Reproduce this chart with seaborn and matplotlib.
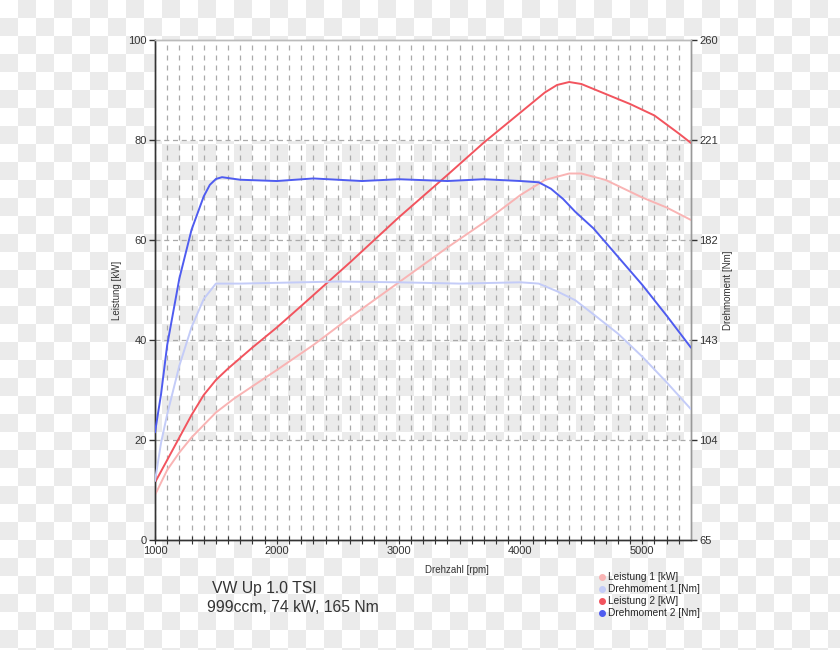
import numpy as np
import pandas as pd
import matplotlib
matplotlib.use('Agg')
import matplotlib.pyplot as plt
from matplotlib.lines import Line2D
import seaborn as sns

# values
rpm_l1 = [1000, 1100, 1200, 1300, 1400, 1500, 1650, 2000, 2300, 2600, 3000, 3400, 3700,
          4000, 4200, 4400, 4500, 4700, 5000, 5200, 5400]
leistung_1 = [9, 14, 17.5, 20.5, 23, 25.5, 28.3, 34, 39, 44.5, 51.5, 58.5, 63.5,
              69, 72, 73.3, 73.3, 72, 68.5, 66.5, 64]

rpm_l2 = [1000, 1100, 1200, 1300, 1400, 1500, 1600, 1800, 2000, 2200, 2600, 3000, 3400, 3700,
          4000, 4200, 4300, 4400, 4500, 4600, 4700, 4900, 5100, 5300, 5400]
leistung_2 = [11.5, 16, 20.5, 25, 29, 32, 34.3, 38.5, 42.5, 46.8, 55.5, 64.5, 73, 79.5,
              85.5, 89.5, 91, 91.6, 91.2, 90.2, 89.2, 87.2, 84.9, 81.3, 79.4]

rpm_d1 = [1000, 1050, 1100, 1200, 1300, 1400, 1500, 1700, 2000, 2500, 3000, 3500, 4000,
          4150, 4300, 4450, 4600, 4800, 5000, 5200, 5400]
drehmoment_1 = [88, 103, 114, 133, 148, 159, 165, 165, 165.3, 165.8, 165.5, 165, 165.5,
                165, 162, 158.5, 153, 145.5, 136.5, 126.5, 116]

rpm_d2 = [1000, 1050, 1100, 1200, 1300, 1400, 1450, 1500, 1550, 1700, 2000, 2300, 2700, 3000,
          3400, 3700, 4000, 4150, 4250, 4350, 4450, 4600, 4800, 5000, 5200, 5400]
drehmoment_2 = [107, 122, 141, 167, 186, 199, 203.5, 205.8, 206.5, 205.5, 205, 206, 205, 205.7,
                205, 205.7, 205, 204.5, 202, 198, 193, 186.5, 175.5, 164.5, 152.5, 140]

left_ticks = [0, 20, 40, 60, 80, 100]
right_ticks = [65, 104, 143, 182, 221, 260]
x_ticks = [1000, 2000, 3000, 4000, 5000]

labels = ['Leistung 1 [kW]', 'Drehmoment 1 [Nm]', 'Leistung 2 [kW]', 'Drehmoment 2 [Nm]']
colors = ['#f9b4b4', '#c4ccf8', '#f2545e', '#4f5cf0']

sns.set_theme(style='white')
plt.rcParams['font.family'] = ['Liberation Sans', 'DejaVu Sans']

fig = plt.figure(figsize=(8.4, 6.5), dpi=100)
fig.patch.set_facecolor('white')

# checkerboard background (transparent png look)
yy, xx = np.mgrid[0:650, 0:840]
check = ((xx // 18 + yy // 18) % 2 == 1)
bg = np.full((650, 840, 3), 255, dtype=np.uint8)
bg[check] = 235
bg_ax = fig.add_axes([0, 0, 1, 1], zorder=-5)
bg_ax.imshow(bg, aspect='auto', interpolation='nearest')
bg_ax.axis('off')

ax = fig.add_axes([155/840, 1-540/650, 536/840, 500/650])
ax.set_facecolor('none')
ax2 = ax.twinx()

df_l1 = pd.DataFrame({'rpm': rpm_l1, 'val': leistung_1})
df_l2 = pd.DataFrame({'rpm': rpm_l2, 'val': leistung_2})
df_d1 = pd.DataFrame({'rpm': rpm_d1, 'val': drehmoment_1})
df_d2 = pd.DataFrame({'rpm': rpm_d2, 'val': drehmoment_2})

sns.lineplot(data=df_l1, x='rpm', y='val', ax=ax, color=colors[0], lw=1.4, zorder=3)
sns.lineplot(data=df_l2, x='rpm', y='val', ax=ax, color=colors[2], lw=1.4, zorder=4)
sns.lineplot(data=df_d1, x='rpm', y='val', ax=ax2, color=colors[1], lw=1.4, zorder=3)
sns.lineplot(data=df_d2, x='rpm', y='val', ax=ax2, color=colors[3], lw=1.4, zorder=4)

ax.axhspan(80, 100, color='white', zorder=0)
ax.axhspan(0, 20, color='white', zorder=0)

ax.set_xlim(1000, 5400)
ax.set_ylim(0, 100)
ax2.set_ylim(65, 260)
ax.set_xticks(x_ticks)
ax.set_xticks(range(1100, 5400, 100), minor=True)
ax.set_yticks(left_ticks)
ax2.set_yticks(right_ticks)

ax.grid(False)
ax2.grid(False)
ax.grid(which='minor', axis='x', color='#aaaaaa', lw=0.9, linestyle=(0, (4, 4)))
ax.grid(which='major', axis='x', color='#aaaaaa', lw=0.9, linestyle=(0, (4, 4)))
for v in left_ticks[1:-1]:
    ax.axhline(v, color='#aaaaaa', lw=0.9, linestyle=(0, (4, 3)), zorder=1)

for a in (ax, ax2):
    a.spines['left'].set_color('#333333')
    a.spines['bottom'].set_color('#333333')
    a.spines['top'].set_color('#bbbbbb')
    a.spines['right'].set_color('#999999')
    for s in a.spines.values():
        s.set_linewidth(1.0)

ax.tick_params(axis='y', which='major', left=True, length=4, width=1, color='#333333',
               labelsize=8, labelcolor='#333333', pad=2)
ax.tick_params(axis='x', which='both', bottom=True, direction='inout', length=6, width=0.8,
               color='#333333', labelsize=8, labelcolor='#333333', pad=1)
ax2.tick_params(axis='y', right=True, length=4, width=1, color='#333333',
                labelsize=8, labelcolor='#333333', pad=2)

ax.set_xlabel('Drehzahl [rpm]', fontsize=7, color='#333333')
ax.set_ylabel('Leistung [kW]', fontsize=7, color='#333333')
ax2.set_ylabel('Drehmoment [Nm]', fontsize=7, color='#333333')
ax.xaxis.set_label_coords(0.563, -0.05)
ax.yaxis.set_label_coords(-0.062, 0.5)
ax2.yaxis.set_label_coords(1.06, 0.5)

fig.text(212/840, 1-589/650, 'VW Up 1.0 TSI', fontsize=11.3, color='#333333', va='center')
fig.text(207/840, 1-608/650, '999ccm, 74 kW, 165 Nm', fontsize=11.3, color='#333333', va='center')

handles = [Line2D([], [], marker='o', ls='none', color=c, markersize=4) for c in colors]
fig.legend(handles, labels, loc='upper left', bbox_to_anchor=(592/840, 1-567/650),
           frameon=False, fontsize=7.3, handletextpad=0.1, labelspacing=0.2,
           borderpad=0, handlelength=1)

fig.savefig('out.png', dpi=100)
